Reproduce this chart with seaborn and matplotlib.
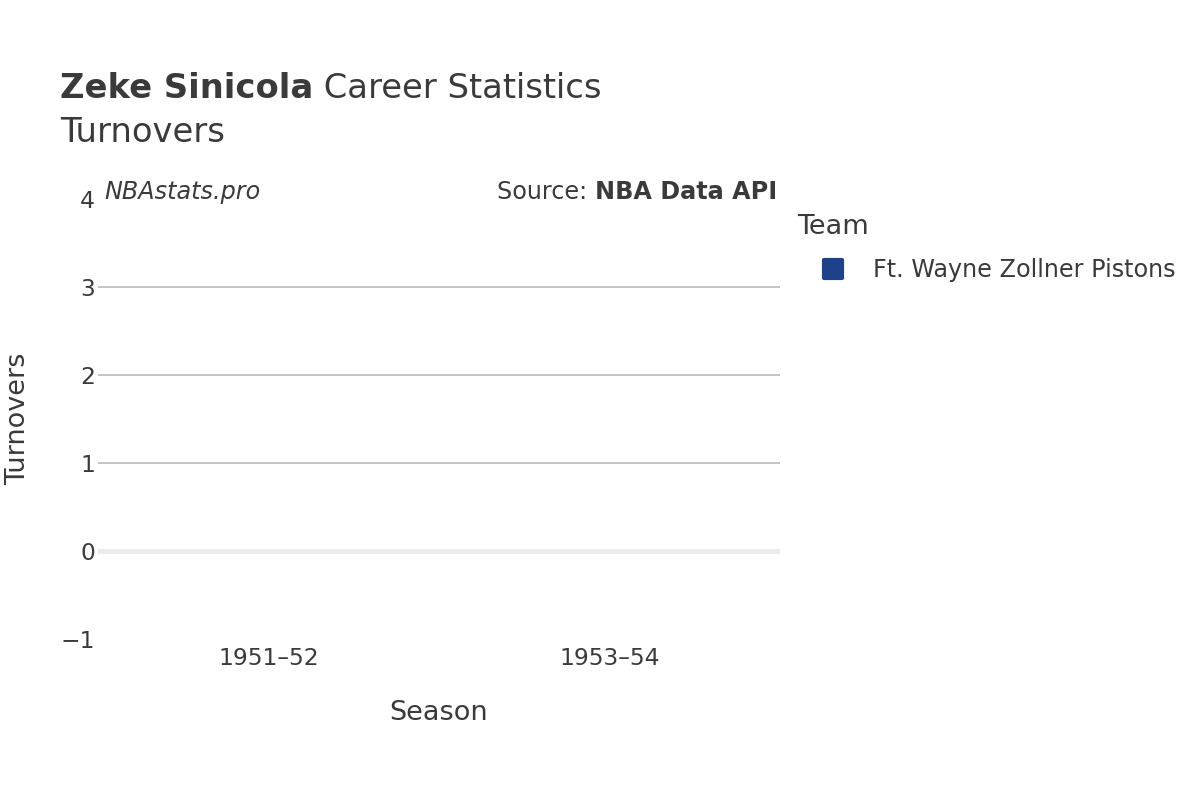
import numpy as np
import pandas as pd
import matplotlib
matplotlib.use("Agg")
import matplotlib.pyplot as plt
from matplotlib.lines import Line2D
from matplotlib.markers import MarkerStyle
import seaborn as sns

seasons = ["1951\u201352", "1953\u201354"]
turnovers = [0, 0]
teams = ["Ft. Wayne Zollner Pistons", "Ft. Wayne Zollner Pistons"]
team_colors = {"Ft. Wayne Zollner Pistons": "#1D428A"}
y_ticks = [-1, 0, 1, 2, 3, 4]

df = pd.DataFrame({"Season": seasons, "Turnovers": turnovers, "Team": teams})

sns.set_theme(style="white")
plt.rcParams["font.family"] = ["DejaVu Sans"]
txt = "#3a3a3a"

fig = plt.figure(figsize=(12, 8), dpi=100)
ax = fig.add_axes([98 / 1200, 161 / 800, 682 / 1200, 440 / 800])

sns.barplot(data=df, x="Season", y="Turnovers", hue="Team", palette=team_colors,
            ax=ax, legend=False, width=0.8, linewidth=0)

ax.set_ylim(y_ticks[0], y_ticks[-1])
ax.set_yticks(y_ticks)
ax.set_yticklabels([f"\u2212{abs(t)}" if t < 0 else str(t) for t in y_ticks])
for t in y_ticks:
    if y_ticks[0] < t < y_ticks[-1] and t != 0:
        ax.axhline(t, color="#c4c4c4", lw=1.4, zorder=0)
ax.axhline(0, color="#ebebeb", lw=3.5, zorder=3)

for s in ax.spines.values():
    s.set_visible(False)
ax.tick_params(axis="both", length=0, labelsize=16.8, colors=txt)
ax.tick_params(axis="y", pad=2)
ax.tick_params(axis="x", pad=6)
ax.set_xlabel("Season", fontsize=19.5, color=txt, labelpad=21)
ax.set_ylabel("Turnovers", fontsize=19.5, color=txt)
ax.yaxis.set_label_coords(-(98 - 31) / 682, 0.5)

# title with bold name
fig.canvas.draw()
r = fig.canvas.get_renderer()
t1 = fig.text(60 / 1200, 1 - 89 / 800, "Zeke Sinicola", fontsize=24.3, fontweight="bold",
              color=txt, va="center", ha="left")
bb = t1.get_window_extent(renderer=r)
fig.text(bb.x1 / 1200, 1 - 89 / 800, " Career Statistics", fontsize=24.3, color=txt,
         va="center", ha="left")
fig.text(60 / 1200, 1 - 133 / 800, "Turnovers", fontsize=24.3, color=txt, va="center", ha="left")

# annotations
fig.text(104 / 1200, 1 - 192 / 800, "NBAstats.pro", fontsize=17.2, style="italic",
         color=txt, va="center", ha="left")
s2 = fig.text(777 / 1200, 1 - 192 / 800, "NBA Data API", fontsize=17.2, fontweight="bold",
              color=txt, va="center", ha="right")
bb2 = s2.get_window_extent(renderer=r)
fig.text(bb2.x0 / 1200, 1 - 192 / 800, "Source: ", fontsize=17.2, color=txt,
         va="center", ha="right")

# legend
handles = [Line2D([0], [0], marker=MarkerStyle("s", joinstyle="round"), linestyle="",
                  markersize=13, markeredgewidth=3,
                  markerfacecolor=c, markeredgecolor=c) for c in team_colors.values()]
leg = fig.legend(handles, list(team_colors.keys()), title="Team", loc="upper left",
                 bbox_to_anchor=(797 / 1200, 1 - 214 / 800), frameon=False,
                 fontsize=17.2, title_fontsize=19.5, handlelength=3.0, handletextpad=0.2,
                 alignment="left", borderaxespad=0, borderpad=0, labelspacing=0.75)
for tx in leg.get_texts():
    tx.set_color(txt)
leg.get_title().set_color(txt)

fig.savefig("out.png", dpi=100)
